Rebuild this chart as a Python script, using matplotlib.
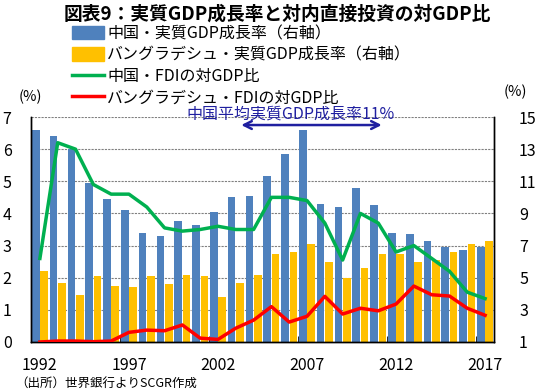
import matplotlib
matplotlib.use("Agg")
import matplotlib.pyplot as plt
from matplotlib.lines import Line2D
from matplotlib.patches import Patch
import numpy as np

plt.rcParams['font.family'] = ['Noto Sans CJK JP', 'DejaVu Sans']

years = list(range(1992, 2018))
china_gdp = [14.2, 13.8, 13.0, 10.9, 9.9, 9.2, 7.8, 7.6, 8.5, 8.3, 9.1, 10.0, 10.1,
             11.3, 12.7, 14.2, 9.6, 9.4, 10.6, 9.5, 7.8, 7.7, 7.3, 6.9, 6.7, 6.9]
bd_gdp = [5.4, 4.7, 3.9, 5.1, 4.5, 4.4, 5.1, 4.6, 5.2, 5.1, 3.8, 4.7, 5.2,
          6.5, 6.6, 7.1, 6.0, 5.0, 5.6, 6.5, 6.5, 6.0, 6.1, 6.6, 7.1, 7.3]
china_fdi = [2.6, 6.2, 6.0, 4.9, 4.6, 4.6, 4.2, 3.55, 3.45, 3.5, 3.6, 3.5, 3.5,
             4.5, 4.5, 4.4, 3.7, 2.55, 4.0, 3.7, 2.8, 3.0, 2.6, 2.2, 1.55, 1.35]
bd_fdi = [0.0, 0.03, 0.03, 0.01, 0.03, 0.3, 0.37, 0.35, 0.53, 0.12, 0.08, 0.43, 0.68,
          1.1, 0.62, 0.8, 1.42, 0.87, 1.05, 0.97, 1.18, 1.74, 1.47, 1.43, 1.05, 0.83]
tick_years = [1992, 1997, 2002, 2007, 2012, 2017]
labels = ['中国・実質GDP成長率（右軸）', 'バングラデシュ・実質GDP成長率（右軸）',
          '中国・FDIの対GDP比', 'バングラデシュ・FDIの対GDP比']
title = '図表9：実質GDP成長率と対内直接投資の対GDP比'
note = '中国平均実質GDP成長率11%'
source = '（出所）世界銀行よりSCGR作成'

C_BLUE = '#4F81BD'
C_YEL = '#FFC000'
C_GRN = '#00B050'
C_RED = '#FF0000'
NAVY = '#2020A0'

fig = plt.figure(figsize=(5.38, 3.92), dpi=100)
ax = fig.add_axes([31/538, 50/392, 463/538, 225/392])
x = np.arange(len(years))
w = 0.43
ax.bar(x - w/2 - 0.02, china_gdp, width=w, color=C_BLUE, zorder=2)
ax.bar(x + w/2 + 0.02, bd_gdp, width=w, color=C_YEL, zorder=2)
ax.set_ylim(1, 15)
ax.set_xlim(-0.5, len(years) - 0.5)
for v in range(3, 16, 2):
    ax.axhline(v, color='#808080', lw=0.8, ls=(0, (2, 1)), zorder=1)

ax2 = ax.twinx()
ax2.plot(x, china_fdi, color=C_GRN, lw=2.5, zorder=3)
ax2.plot(x, bd_fdi, color=C_RED, lw=2.5, zorder=3)
ax2.set_ylim(0, 7)

# y axes: bars' scale on the right, lines' scale on the left
ax.yaxis.tick_right()
ax.yaxis.set_label_position('right')
ax.set_yticks(range(1, 16, 2))
ax.tick_params(axis='y', which='both', left=False, right=False, labelleft=False,
               labelright=True, length=0, pad=18, labelsize=11.5)
ax2.yaxis.tick_left()
ax2.set_yticks(range(0, 8))
ax2.tick_params(axis='y', which='both', left=False, right=False, labelleft=True,
                labelright=False, length=0, pad=14, labelsize=11.5)

# x axis
ax.set_xticks([years.index(y) for y in tick_years])
ax.set_xticklabels([str(y) for y in tick_years])
ax.tick_params(axis='x', length=0, pad=11, labelsize=11.5)
ax.set_xticks([years.index(y) - 0.5 for y in tick_years], minor=True)
ax.tick_params(axis='x', which='minor', direction='in', length=4, color='black')

for a in (ax, ax2):
    a.spines['top'].set_visible(False)
    for s in ('left', 'right', 'bottom'):
        a.spines[s].set_color('black')
        a.spines[s].set_linewidth(1.0)

# annotation
ax2.annotate('', xy=(years.index(2004) - 0.85, 6.75), xytext=(years.index(2011) + 0.35, 6.75),
             arrowprops=dict(arrowstyle='<->', color=NAVY, lw=1.8, mutation_scale=14),
             zorder=5)
fig.text(291/538, 1 - 114/392, note, color=NAVY, fontsize=11.5, ha='center', va='center')

fig.text(277/538, 1 - 14/392, title, fontsize=13.5, fontweight='bold', ha='center', va='center')
fig.text(30/538, 1 - 97/392, '(%)', fontsize=10.5, ha='center', va='center')
fig.text(515/538, 1 - 92/392, '(%)', fontsize=10.5, ha='center', va='center')
fig.text(15/538, 1 - 383/392, source, fontsize=9, ha='left', va='center')

handles = [Patch(color=C_BLUE), Patch(color=C_YEL),
           Line2D([], [], color=C_GRN, lw=2.5), Line2D([], [], color=C_RED, lw=2.5)]
fig.legend(handles, labels, loc='upper left', bbox_to_anchor=(72/538, 1 - 25/392),
           frameon=False, fontsize=11.5, handlelength=2.0, handleheight=0.9,
           handletextpad=0.2, labelspacing=0.28, borderpad=0, borderaxespad=0)

fig.savefig('out.png', dpi=100)
